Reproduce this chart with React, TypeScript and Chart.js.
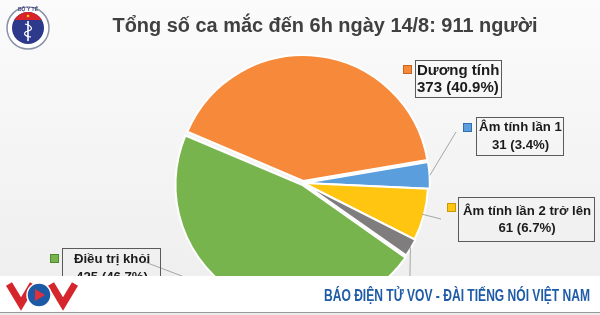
import React, { useEffect, useRef } from 'react';
import { Chart, registerables } from 'chart.js';

Chart.register(...registerables);

// ---- data ----
const categories = ['Dương tính', 'Âm tính lần 1', 'Âm tính lần 2 trở lên', 'Tử vong', 'Điều trị khỏi'];
const values = [373, 31, 61, 21, 425];
const total = 911;
const titleText = 'Tổng số ca mắc đến 6h ngày 14/8: 911 người';
const bannerText = 'BÁO ĐIỆN TỬ VOV - ĐÀI TIẾNG NÓI VIỆT NAM';

// ---- styles ----
const colors = ['#f68a3a', '#5b9ede', '#ffc510', '#7f7d7e', '#77b44d'];
const markerEdges = ['#c8651f', '#2f6fb0', '#c99a00', '#555555', '#4f8a2c'];
const sliceOffsets = [8, 4, 0, 2, 8];

type LabelLayout = {
  box: [number, number, number, number];
  marker: [number, number];
  align: 'left' | 'center';
  size: number;
  gap: number;
  leader: [number, number] | null;
};

const labelLayout: LabelLayout[] = [
  { box: [415, 60, 86, 37], marker: [403, 65], align: 'left', size: 15, gap: 8.5, leader: null },
  { box: [476, 117, 87, 38], marker: [463, 123], align: 'center', size: 13.2, gap: 9, leader: [456, 132] },
  { box: [458, 197, 136, 44], marker: [447, 203], align: 'center', size: 13.2, gap: 8.5, leader: [441, 219] },
  { box: [370, 330, 90, 38], marker: [358, 336], align: 'center', size: 13.2, gap: 8.5, leader: [409, 330] },
  { box: [62, 248, 98, 40], marker: [50, 254], align: 'center', size: 13.2, gap: 9, leader: [145, 262] },
];

const fontOf = (size: number) => `bold ${size}px "Liberation Sans", Arial, sans-serif`;

const decorPlugin = {
  id: 'decor',
  beforeDraw(chart: any) {
    const ctx = chart.ctx as CanvasRenderingContext2D;
    const W = chart.width;
    const H = chart.height;
    ctx.save();
    const g = ctx.createLinearGradient(0, 0, 0, 276);
    g.addColorStop(0, '#fbfbfb');
    g.addColorStop(1, '#efefef');
    ctx.fillStyle = g;
    ctx.fillRect(0, 0, W, H);

    // Ministry of Health emblem
    const cx = 28, cy = 28;
    ctx.beginPath();
    ctx.arc(cx, cy, 21, 0, Math.PI * 2);
    ctx.fillStyle = '#ffffff';
    ctx.fill();
    ctx.strokeStyle = '#8a93a8';
    ctx.lineWidth = 1.5;
    ctx.stroke();
    ctx.save();
    ctx.beginPath();
    ctx.arc(cx, cy, 16, 0, Math.PI * 2);
    ctx.clip();
    ctx.fillStyle = '#2d3a8c';
    ctx.fillRect(cx - 17, cy - 17, 34, 34);
    ctx.fillStyle = '#d8232a';
    ctx.fillRect(cx - 17, cy - 17, 34, 9);
    ctx.restore();
    ctx.fillStyle = '#ffd200';
    ctx.beginPath();
    ctx.arc(cx, cy - 12, 1.3, 0, Math.PI * 2);
    ctx.fill();
    ctx.strokeStyle = '#ffffff';
    ctx.lineWidth = 1.6;
    ctx.beginPath();
    ctx.moveTo(cx, cy - 7);
    ctx.lineTo(cx, cy + 13);
    ctx.stroke();
    ctx.lineWidth = 1.2;
    ctx.beginPath();
    ctx.moveTo(cx - 3, cy - 4);
    ctx.bezierCurveTo(cx + 5, cy - 2, cx + 5, cy + 2, cx, cy + 3);
    ctx.bezierCurveTo(cx - 5, cy + 4, cx - 5, cy + 8, cx + 3, cy + 9);
    ctx.stroke();
    ctx.fillStyle = '#3b3f7a';
    ctx.font = 'bold 5px "Liberation Sans", Arial, sans-serif';
    ctx.textAlign = 'center';
    ctx.textBaseline = 'middle';
    ctx.fillText('BỘ Y TẾ', cx, cy - 18.5);

    // title
    ctx.fillStyle = '#404040';
    ctx.font = 'bold 20px "Liberation Sans", Arial, sans-serif';
    ctx.textAlign = 'center';
    ctx.textBaseline = 'alphabetic';
    ctx.fillText(titleText, 325, 32, 425);
    ctx.restore();
  },
  afterDatasetsDraw(chart: any) {
    const ctx = chart.ctx as CanvasRenderingContext2D;
    const meta = chart.getDatasetMeta(0);
    ctx.save();
    meta.data.forEach((arc: any, i: number) => {
      const p = arc.getProps(['x', 'y', 'startAngle', 'endAngle', 'outerRadius'], true);
      const mid = (p.startAngle + p.endAngle) / 2;
      const off = arc.options.offset || 0;
      const circ = p.endAngle - p.startAngle;
      const fix = 1 - Math.sin(Math.min(Math.PI, circ));
      const r = p.outerRadius + off * fix + off / 4;
      const ax = p.x + Math.cos(mid) * (r - 2);
      const ay = p.y + Math.sin(mid) * (r - 2);
      const lay = labelLayout[i];
      if (!lay) return;
      if (lay.leader) {
        ctx.strokeStyle = '#a6a6a6';
        ctx.lineWidth = 1;
        ctx.beginPath();
        ctx.moveTo(ax, ay);
        ctx.lineTo(lay.leader[0], lay.leader[1]);
        ctx.stroke();
      }
      const [bx, by, bw, bh] = lay.box;
      ctx.strokeStyle = '#5a5a5a';
      ctx.lineWidth = 1;
      ctx.strokeRect(bx + 0.5, by + 0.5, bw, bh);
      // marker
      ctx.fillStyle = colors[i];
      ctx.fillRect(lay.marker[0] + 0.5, lay.marker[1] + 0.5, 8, 8);
      ctx.strokeStyle = markerEdges[i];
      ctx.strokeRect(lay.marker[0] + 0.5, lay.marker[1] + 0.5, 8, 8);
      // text
      const pct = ((values[i] / total) * 100).toFixed(1);
      const line2 = `${values[i]} (${pct}%)`;
      ctx.fillStyle = '#1b1b1b';
      ctx.font = fontOf(lay.size);
      ctx.textBaseline = 'middle';
      const cyBox = by + bh / 2 + 0.5;
      if (lay.align === 'left') {
        ctx.textAlign = 'left';
        ctx.fillText(categories[i], bx + 2, cyBox - lay.gap);
        ctx.fillText(line2, bx + 2, cyBox + lay.gap);
      } else {
        ctx.textAlign = 'center';
        ctx.fillText(categories[i], bx + bw / 2 + 1, cyBox - lay.gap);
        ctx.fillText(line2, bx + bw / 2 + 1, cyBox + lay.gap);
      }
    });
    ctx.restore();
  },
  afterDraw(chart: any) {
    const ctx = chart.ctx as CanvasRenderingContext2D;
    const W = chart.width;
    ctx.save();
    // banner
    ctx.fillStyle = '#ffffff';
    ctx.fillRect(0, 276, W, 36);
    ctx.fillStyle = '#ececec';
    ctx.fillRect(0, 312, W, 3);
    ctx.fillStyle = '#9a9a9a';
    ctx.fillRect(0, 312, W, 1);

    // VOV logo
    ctx.strokeStyle = '#d6262d';
    ctx.lineWidth = 7;
    ctx.lineJoin = 'miter';
    ctx.beginPath();
    ctx.moveTo(9, 284);
    ctx.lineTo(21, 304);
    ctx.lineTo(33, 284);
    ctx.stroke();
    ctx.beginPath();
    ctx.moveTo(51, 284);
    ctx.lineTo(63, 304);
    ctx.lineTo(75, 284);
    ctx.stroke();
    ctx.beginPath();
    ctx.arc(39, 295, 12, 0, Math.PI * 2);
    ctx.fillStyle = '#1d5aa6';
    ctx.fill();
    ctx.strokeStyle = '#ffffff';
    ctx.lineWidth = 1.5;
    ctx.stroke();
    ctx.fillStyle = '#e0303a';
    ctx.beginPath();
    ctx.moveTo(35, 289);
    ctx.lineTo(35, 301);
    ctx.lineTo(45, 295);
    ctx.closePath();
    ctx.fill();

    ctx.fillStyle = '#1f5ca8';
    ctx.font = 'bold 16px "Liberation Sans Narrow", "Liberation Sans", Arial, sans-serif';
    ctx.textAlign = 'right';
    ctx.textBaseline = 'alphabetic';
    ctx.fillText(bannerText, 590, 301, 266);
    ctx.restore();
  },
};

export default function App() {
  const ref = useRef<HTMLCanvasElement | null>(null);
  useEffect(() => {
    document.body.style.margin = '0';
    const canvas = ref.current;
    if (!canvas) return;
    const chart = new Chart(canvas, {
      type: 'pie',
      data: {
        labels: categories,
        datasets: [
          {
            data: values,
            backgroundColor: colors,
            borderColor: '#ffffff',
            borderWidth: 2,
            offset: sliceOffsets,
            rotation: -67,
            radius: 125,
          } as any,
        ],
      },
      options: {
        animation: false,
        responsive: false,
        devicePixelRatio: 1,
        layout: { padding: { left: 177, right: 171, top: 53, bottom: 2 } },
        plugins: {
          legend: { display: false },
          tooltip: { enabled: false },
          title: { display: false },
        },
      },
      plugins: [decorPlugin],
    });
    return () => chart.destroy();
  }, []);
  return (
    <div style={{ position: 'absolute', left: 0, top: 0, width: 600, height: 315 }}>
      <canvas ref={ref} width={600} height={315} style={{ width: 600, height: 315, display: 'block' }} />
    </div>
  );
}
